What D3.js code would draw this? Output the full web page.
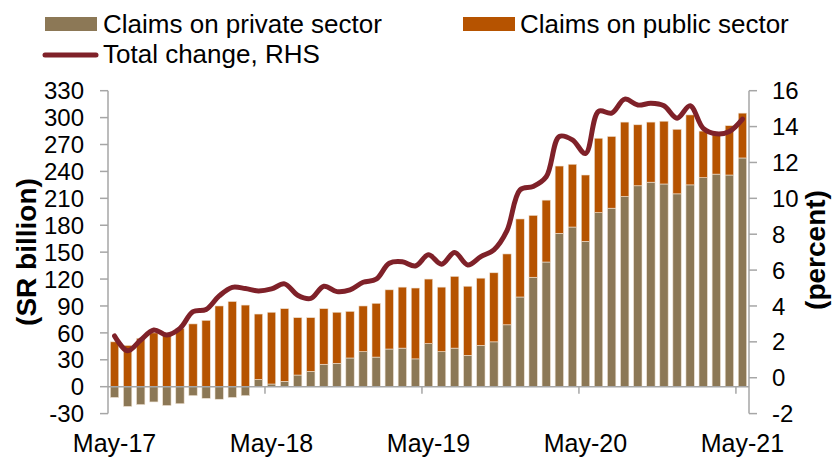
<!DOCTYPE html>
<html>
<head>
<meta charset="utf-8">
<script src="https://cdn.jsdelivr.net/npm/d3@7"></script>
<style>
  body { margin: 0; background: #fff; }
  svg text { font-family: "Liberation Sans", Arial, sans-serif; fill: #000; }
</style>
</head>
<body>
<svg id="chart" width="834" height="459"></svg>
<script>
// categories (monthly, May-17 .. May-21)
const months = [
  "May-17","Jun-17","Jul-17","Aug-17","Sep-17","Oct-17","Nov-17","Dec-17","Jan-18","Feb-18","Mar-18","Apr-18",
  "May-18","Jun-18","Jul-18","Aug-18","Sep-18","Oct-18","Nov-18","Dec-18","Jan-19","Feb-19","Mar-19","Apr-19",
  "May-19","Jun-19","Jul-19","Aug-19","Sep-19","Oct-19","Nov-19","Dec-19","Jan-20","Feb-20","Mar-20","Apr-20",
  "May-20","Jun-20","Jul-20","Aug-20","Sep-20","Oct-20","Nov-20","Dec-20","Jan-21","Feb-21","Mar-21","Apr-21",
  "May-21"
];
// SR billion
const privateSector = [-12,-22,-20,-17,-21,-19,-10,-13,-14,-12,-10,8,3,6,13,17,25,26,32,39,33,42,43,31,48,39,43,35,46,50,69,100,122,139,171,178,162,194,199,212,224,228,226,215,225,233,237,236,255];
const publicSector = [50,46,54,60,57,65,70,74,90,95,91,73,80,81,64,60,62,57,52,51,60,66,68,79,72,72,80,77,75,77,79,87,69,69,75,70,74,83,80,83,68,67,70,72,78,52,45,55,50];
// percent, RHS
const totalChange = [2.33,1.5,2.1,2.66,2.38,2.75,3.68,3.8,4.56,5.04,4.97,4.84,4.95,5.23,4.6,4.42,5.1,4.8,4.9,5.32,5.49,6.38,6.46,6.23,6.85,6.33,6.98,6.29,6.75,7.13,8.2,10.47,10.66,11.2,13.45,13.26,12.5,14.85,14.75,15.53,15.2,15.3,15.16,14.47,15.16,13.9,13.6,13.73,14.42];
const xLabels = ["May-17","May-18","May-19","May-20","May-21"];
const leftTicks = [-30,0,30,60,90,120,150,180,210,240,270,300,330];
const rightTicks = [-2,0,2,4,6,8,10,12,14,16];

const colors = { private: "#8C7856", public: "#B65300", line: "#7F2129", axis: "#A6A6A6" };

const plot = { left: 108, right: 749, top: 90.7, bottom: 413.6 };
const svg = d3.select("#chart");

const x = d3.scaleBand().domain(months).range([plot.left, plot.right]).paddingInner(0.36).paddingOuter(0.18);
const y = d3.scaleLinear().domain([-30, 330]).range([plot.bottom, plot.top]);
const y2 = d3.scaleLinear().domain([-2, 16]).range([plot.bottom, plot.top]);

// stacked bars (private next to zero, public on top)
const rows = months.map((m, i) => ({ month: m, private: privateSector[i], public: publicSector[i] }));
const series = d3.stack().keys(["private", "public"]).offset(d3.stackOffsetDiverging)(rows);

svg.append("g").selectAll("g").data(series).join("g")
    .attr("fill", d => colors[d.key])
    .selectAll("rect").data(d => d).join("rect")
    .attr("x", d => x(d.data.month))
    .attr("width", x.bandwidth())
    .attr("y", d => y(Math.max(d[0], d[1])))
    .attr("height", d => Math.abs(y(d[0]) - y(d[1])))
    .attr("stroke", "#efe2d2")
    .attr("stroke-width", 0.6);

// zero line with yearly ticks between categories
const step = x.step();
svg.append("line")
    .attr("x1", plot.left).attr("x2", plot.right)
    .attr("y1", y(0)).attr("y2", y(0))
    .attr("stroke", colors.axis).attr("stroke-width", 1.5);
[12, 24, 36, 48].forEach(k => {
    const xx = plot.left + k * step;
    svg.append("line")
        .attr("x1", xx).attr("x2", xx)
        .attr("y1", y(0)).attr("y2", y(0) + 7)
        .attr("stroke", colors.axis).attr("stroke-width", 1.5);
});

// left axis
const gl = svg.append("g");
gl.append("line").attr("x1", plot.left).attr("x2", plot.left)
    .attr("y1", plot.top).attr("y2", plot.bottom)
    .attr("stroke", colors.axis).attr("stroke-width", 1.5);
leftTicks.forEach(t => {
    gl.append("line").attr("x1", plot.left - 8).attr("x2", plot.left)
        .attr("y1", y(t)).attr("y2", y(t))
        .attr("stroke", colors.axis).attr("stroke-width", 1.5);
    gl.append("text").attr("x", 84).attr("y", y(t)).attr("dy", "0.36em")
        .attr("text-anchor", "end").style("font-size", "24px").text(t);
});

// right axis
const gr = svg.append("g");
gr.append("line").attr("x1", plot.right).attr("x2", plot.right)
    .attr("y1", plot.top).attr("y2", plot.bottom)
    .attr("stroke", colors.axis).attr("stroke-width", 1.5);
rightTicks.forEach(t => {
    gr.append("line").attr("x1", plot.right).attr("x2", plot.right + 8)
        .attr("y1", y2(t)).attr("y2", y2(t))
        .attr("stroke", colors.axis).attr("stroke-width", 1.5);
    gr.append("text").attr("x", 772).attr("y", y2(t)).attr("dy", "0.36em")
        .attr("text-anchor", "start").style("font-size", "24px").text(t);
});

// x labels
svg.append("g").selectAll("text").data(xLabels).join("text")
    .attr("x", d => x(d) + x.bandwidth() / 2)
    .attr("y", 452)
    .attr("text-anchor", "middle")
    .style("font-size", "25px")
    .text(d => d);

// axis titles
svg.append("text")
    .attr("transform", "translate(36,252) rotate(-90)")
    .attr("text-anchor", "middle")
    .style("font-size", "28px").style("font-weight", "bold")
    .text("(SR billion)");
svg.append("text")
    .attr("transform", "translate(825,250) rotate(-90)")
    .attr("text-anchor", "middle")
    .style("font-size", "28px").style("font-weight", "bold")
    .text("(percent)");

// total change line
const line = d3.line()
    .x((d, i) => x(months[i]) + x.bandwidth() / 2)
    .y(d => y2(d))
    .curve(d3.curveCatmullRom.alpha(0.5));
svg.append("path")
    .datum(totalChange)
    .attr("d", line)
    .attr("fill", "none")
    .attr("stroke", colors.line)
    .attr("stroke-width", 5)
    .attr("stroke-linejoin", "round")
    .attr("stroke-linecap", "round");

// legend
const legend = svg.append("g");
legend.append("rect").attr("x", 45).attr("y", 17).attr("width", 52).attr("height", 14).attr("fill", colors.private);
legend.append("text").attr("x", 103).attr("y", 33).style("font-size", "26px").text("Claims on private sector");
legend.append("rect").attr("x", 463).attr("y", 17).attr("width", 52).attr("height", 14).attr("fill", colors.public);
legend.append("text").attr("x", 520).attr("y", 33).style("font-size", "26px").text("Claims on public sector");
legend.append("line").attr("x1", 45).attr("x2", 96).attr("y1", 55).attr("y2", 55)
    .attr("stroke", colors.line).attr("stroke-width", 5).attr("stroke-linecap", "round");
legend.append("text").attr("x", 103).attr("y", 63).style("font-size", "26px").text("Total change, RHS");
</script>
</body>
</html>
